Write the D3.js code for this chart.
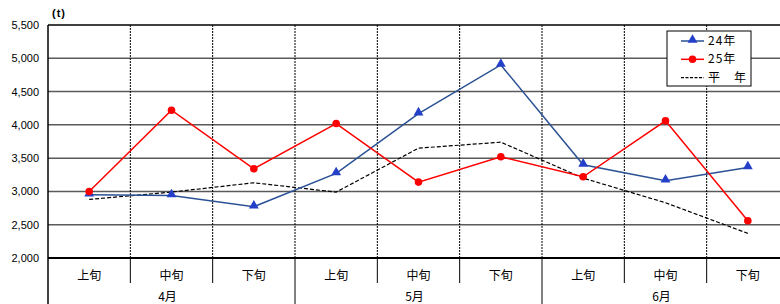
<!DOCTYPE html>
<html>
<head>
<meta charset="utf-8">
<script src="https://cdn.jsdelivr.net/npm/d3@7"></script>
<style>
  body { margin: 0; background: #fff; }
  svg { display: block; font-family: "Liberation Sans", Arial, sans-serif; }
</style>
</head>
<body>
<svg id="chart"></svg>
<script>
// data
const periods = ["上旬", "中旬", "下旬", "上旬", "中旬", "下旬", "上旬", "中旬", "下旬"];
const months = ["4月", "5月", "6月"];
const y24 = [2950, 2940, 2770, 3270, 4170, 4900, 3400, 3160, 3360];
const y25 = [3000, 4220, 3340, 4020, 3140, 3520, 3220, 4060, 2560];
const avgYear = [2880, 2990, 3130, 2990, 3650, 3740, 3200, 2830, 2370];
const yTicks = [2000, 2500, 3000, 3500, 4000, 4500, 5000, 5500];

const w = 780, h = 304;
const plotLeft = 48, plotRight = 789, plotTop = 25, plotBottom = 258;
const cjk = "'Noto Sans CJK JP', sans-serif";

const svg = d3.select("#chart").attr("width", w).attr("height", h);

const idx = d3.range(periods.length);
const x = d3.scaleBand().domain(idx).range([plotLeft, plotRight]);
const y = d3.scaleLinear().domain([2000, 5500]).range([plotBottom, plotTop]);
const monthScale = d3.scaleBand().domain(months).range([plotLeft, plotRight]);

// horizontal grid
svg.append("g")
   .selectAll("line")
   .data(yTicks)
   .enter().append("line")
   .attr("x1", plotLeft).attr("x2", plotRight)
   .attr("y1", d => y(d)).attr("y2", d => y(d))
   .attr("stroke", d => (d == 2000 || d == 5500) ? "#000" : "#5a5a5a")
   .attr("stroke-width", d => d == 2000 ? 2 : 1.5);

// vertical dotted lines between periods
svg.append("g")
   .selectAll("line")
   .data(idx.slice(1))
   .enter().append("line")
   .attr("x1", d => x(d)).attr("x2", d => x(d))
   .attr("y1", plotTop).attr("y2", plotBottom)
   .attr("stroke", "#000")
   .attr("stroke-width", 1)
   .attr("stroke-dasharray", "2,1");

// left axis line
svg.append("line")
   .attr("x1", plotLeft).attr("x2", plotLeft)
   .attr("y1", plotTop).attr("y2", h)
   .attr("stroke", "#000").attr("stroke-width", 1.5);

// y tick labels
svg.append("g")
   .selectAll("text")
   .data(yTicks)
   .enter().append("text")
   .attr("x", 39)
   .attr("y", d => y(d) + 4)
   .attr("text-anchor", "end")
   .attr("font-size", 11)
   .attr("fill", "#000")
   .text(d => d3.format(",")(d));

svg.append("text")
   .attr("x", 52).attr("y", 17)
   .attr("font-size", 11)
   .attr("font-weight", "bold")
   .attr("letter-spacing", 1)
   .text("(t)");

// category dividers in the label area
svg.append("g")
   .selectAll("line")
   .data(idx.slice(1).filter(i => i % 3 != 0))
   .enter().append("line")
   .attr("x1", d => x(d)).attr("x2", d => x(d))
   .attr("y1", plotBottom).attr("y2", 283)
   .attr("stroke", "#000").attr("stroke-width", 1);

svg.append("g")
   .selectAll("line")
   .data([3, 6])
   .enter().append("line")
   .attr("x1", d => x(d)).attr("x2", d => x(d))
   .attr("y1", plotBottom).attr("y2", h)
   .attr("stroke", "#000").attr("stroke-width", 1);

// period labels
svg.append("g")
   .selectAll("text")
   .data(idx)
   .enter().append("text")
   .attr("x", d => x(d) + x.bandwidth() / 2)
   .attr("y", 280)
   .attr("text-anchor", "middle")
   .attr("font-size", 12)
   .attr("font-family", cjk)
   .text(d => periods[d]);

// month labels (sit at the very bottom edge, as in the original)
svg.append("g")
   .selectAll("text")
   .data(months)
   .enter().append("text")
   .attr("x", d => monthScale(d) + monthScale.bandwidth() / 2 - 4)
   .attr("y", 301)
   .attr("text-anchor", "middle")
   .attr("font-size", 12)
   .attr("font-family", cjk)
   .text(d => d);

const cx = i => x(i) + x.bandwidth() / 2;
const line = d3.line().x((d, i) => cx(i)).y(d => y(d));

// 平年
svg.append("path")
   .datum(avgYear)
   .attr("fill", "none")
   .attr("stroke", "#000")
   .attr("stroke-width", 1.2)
   .attr("stroke-dasharray", "4,2")
   .attr("d", line);

// 24年
svg.append("path")
   .datum(y24)
   .attr("fill", "none")
   .attr("stroke", "#2a5194")
   .attr("stroke-width", 1.5)
   .attr("d", line);

const tri = d3.symbol().type(d3.symbolTriangle).size(42);
svg.append("g")
   .selectAll("path")
   .data(y24)
   .enter().append("path")
   .attr("d", tri)
   .attr("transform", (d, i) => "translate(" + cx(i) + "," + (y(d) - 1) + ")")
   .attr("fill", "#2440c8");

// 25年
svg.append("path")
   .datum(y25)
   .attr("fill", "none")
   .attr("stroke", "#ff0000")
   .attr("stroke-width", 1.5)
   .attr("d", line);

svg.append("g")
   .selectAll("circle")
   .data(y25)
   .enter().append("circle")
   .attr("cx", (d, i) => cx(i))
   .attr("cy", d => y(d))
   .attr("r", 3.8)
   .attr("fill", "#ff0000");

// legend
const legend = svg.append("g").attr("transform", "translate(667,31)");
legend.append("rect")
      .attr("width", 84).attr("height", 55)
      .attr("fill", "#fff").attr("stroke", "#000").attr("stroke-width", 1);

const items = [
  {label: "24年", color: "#2a5194", dash: null, marker: "tri"},
  {label: "25年", color: "#ff0000", dash: null, marker: "circle"},
  {label: "平　年", color: "#000", dash: "3,1.5", marker: null}
];

items.forEach((it, i) => {
  const ly = 10 + i * 18.3;
  legend.append("line")
        .attr("x1", 14).attr("x2", 37)
        .attr("y1", ly).attr("y2", ly)
        .attr("stroke", it.color)
        .attr("stroke-width", it.dash ? 1.2 : 1.5)
        .attr("stroke-dasharray", it.dash);
  if (it.marker == "tri") {
    legend.append("path").attr("d", tri)
          .attr("transform", "translate(25.5," + (ly - 1) + ")")
          .attr("fill", "#2440c8");
  } else if (it.marker == "circle") {
    legend.append("circle").attr("cx", 25.5).attr("cy", ly).attr("r", 3.8)
          .attr("fill", "#ff0000");
  }
  legend.append("text")
        .attr("x", 41).attr("y", ly + 4)
        .attr("font-size", 12)
        .attr("font-family", cjk)
        .attr("letter-spacing", 1)
        .text(it.label);
});
</script>
</body>
</html>
